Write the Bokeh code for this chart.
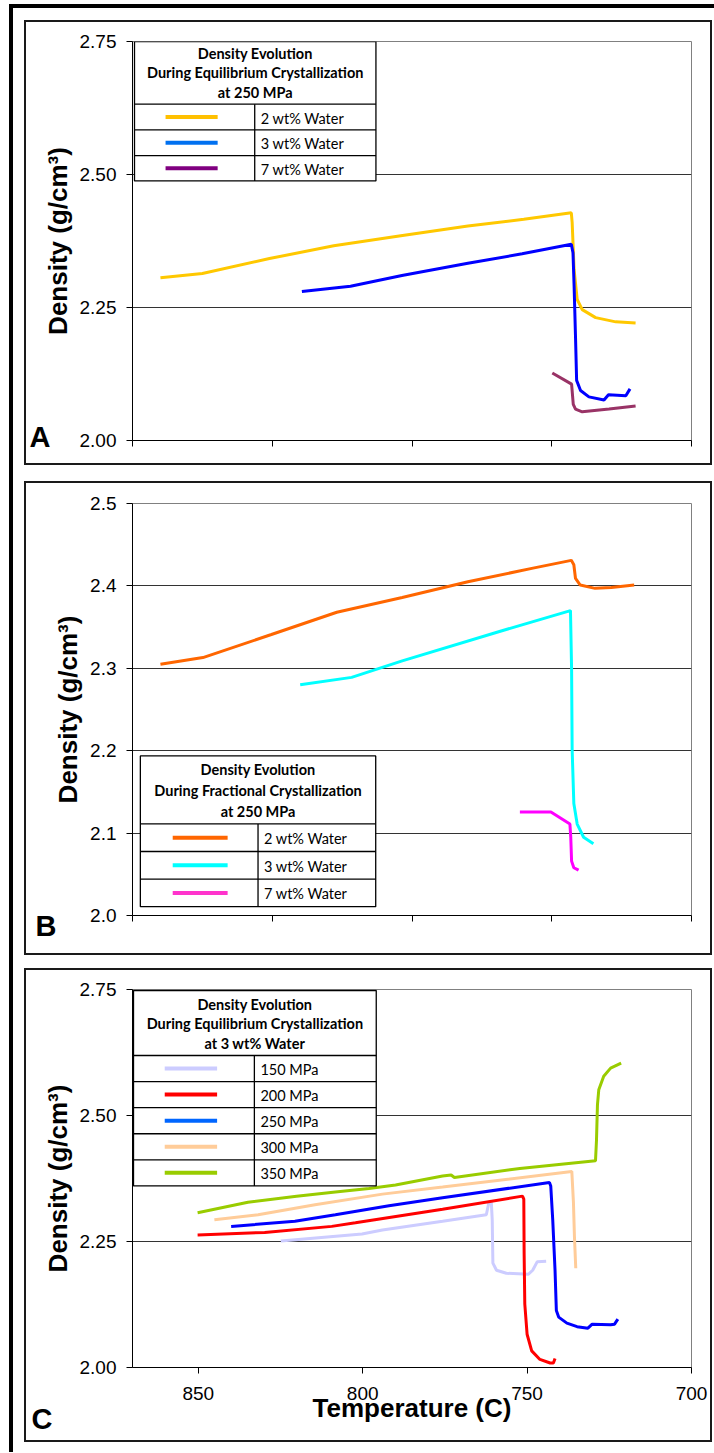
from bokeh.plotting import figure
from bokeh.layouts import column, row
from bokeh.models import (Range1d, FixedTicker, NumeralTickFormatter, Spacer, LinearAxis,
                          CustomJSTickFormatter)
from bokeh.embed import file_html
from bokeh.resources import INLINE
from bokeh.core.properties import value

# ---------------- data (temperature in C, density in g/cm3) ----------------
# Panel A: equilibrium crystallization at 250 MPa
a_t_2 = [890, 875, 851, 828, 804, 780, 760, 743, 742.7, 742.0, 740.9, 739.1, 734.3, 727.1, 720.0]
a_d_2 = [2.306, 2.314, 2.342, 2.366, 2.385, 2.403, 2.416, 2.428, 2.410, 2.321, 2.265, 2.246, 2.231, 2.223, 2.221]
a_t_3 = [839.4, 822, 803.6, 780, 760.6, 743.0, 742.4, 742.0, 741.5, 741.1, 739.7, 736.7, 731.3, 729.7, 723.5, 722.0]
a_d_3 = [2.280, 2.290, 2.310, 2.333, 2.351, 2.369, 2.353, 2.290, 2.195, 2.113, 2.094, 2.082, 2.076, 2.086, 2.084, 2.097]
a_t_7 = [749.8, 742.9, 742.3, 741.5, 739.1, 729.5, 720.0]
a_d_7 = [2.127, 2.106, 2.068, 2.059, 2.054, 2.059, 2.065]

# Panel B: fractional crystallization at 250 MPa
b_t_2 = [890, 874.8, 850.3, 826.9, 803.5, 780, 756.7, 743, 742.1, 741.5, 739.8, 734.5, 728.7, 720.5]
b_d_2 = [2.305, 2.313, 2.341, 2.368, 2.386, 2.405, 2.4216, 2.431, 2.4257, 2.409, 2.401, 2.397, 2.398, 2.401]
b_t_3 = [840, 821.6, 803.5, 768.4, 743.3, 742.9, 742.7, 742.1, 740.9, 738.6, 735.1]
b_d_3 = [2.280, 2.289, 2.309, 2.345, 2.370, 2.299, 2.201, 2.136, 2.111, 2.095, 2.087]
b_t_7 = [761.4, 750.3, 743.5, 743.2, 742.9, 742.1, 740.4]
b_d_7 = [2.1255, 2.1255, 2.111, 2.095, 2.066, 2.058, 2.055]

# Panel C: equilibrium crystallization at 3 wt% water
c_t_150 = [824.9, 800.2, 794.0, 775.7, 762.4, 761.6, 760.9, 760.6, 760.4, 759.3, 756.3, 749.6, 748.3, 746.9, 744.2]
c_d_150 = [2.251, 2.265, 2.273, 2.290, 2.303, 2.328, 2.330, 2.293, 2.207, 2.193, 2.187, 2.185, 2.193, 2.210, 2.211]
c_t_200 = [850.2, 829.8, 809.4, 802.2, 775.7, 751.4, 751.0, 750.9, 750.7, 750.0, 748.6, 746.1, 743.0, 742.0, 741.5]
c_d_200 = [2.263, 2.268, 2.280, 2.287, 2.314, 2.340, 2.334, 2.227, 2.126, 2.066, 2.033, 2.016, 2.009, 2.009, 2.018]
c_t_250 = [840, 820.6, 808.3, 792, 775.7, 743.2, 742.8, 742.2, 741.5, 741.1, 740.4, 737.9, 734.8, 731.5, 730.2, 724.6, 723.4, 722.4]
c_d_250 = [2.280, 2.290, 2.303, 2.321, 2.337, 2.367, 2.360, 2.293, 2.193, 2.113, 2.100, 2.088, 2.081, 2.078, 2.086, 2.085, 2.086, 2.096]
c_t_300 = [845.1, 831.8, 814.5, 794, 775.7, 736.4, 735.9, 735.6, 735.2]
c_d_300 = [2.293, 2.303, 2.323, 2.344, 2.358, 2.389, 2.327, 2.260, 2.197]
c_t_350 = [850.2, 834.9, 820.1, 808.3, 798.1, 790, 775.7, 773.1, 772.1, 752.2, 729.2, 728.9, 728.6, 728.2, 726.7, 724.6, 721.4]
c_d_350 = [2.307, 2.328, 2.340, 2.348, 2.355, 2.362, 2.380, 2.382, 2.377, 2.395, 2.410, 2.450, 2.521, 2.551, 2.578, 2.594, 2.604]

x_ticks_ab = [900, 850, 800, 750, 700]
x_ticks_c = [850, 800, 750, 700]
y_ticks_a = [2.00, 2.25, 2.50, 2.75]
y_ticks_b = [2.0, 2.1, 2.2, 2.3, 2.4, 2.5]
y_ticks_c = [2.00, 2.25, 2.50, 2.75]

legend_a_title = ["Density Evolution", "During Equilibrium Crystallization", "at 250 MPa"]
legend_b_title = ["Density Evolution", "During Fractional Crystallization", "at 250 MPa"]
legend_c_title = ["Density Evolution", "During Equilibrium Crystallization", "at 3 wt% Water"]
labels_ab = ["2 wt% Water", "3 wt% Water", "7 wt% Water"]
labels_c = ["150 MPa", "200 MPa", "250 MPa", "300 MPa", "350 MPa"]

TICK_FONT = "Liberation Sans"
LEG_FONT = "Lato"
BW = 2  # css border width of each panel


def make_panel(xr, yr, yticks, yfmt, xticks, frame, borders, xlabel=None):
    fw, fh = frame
    l, r, t, b = borders
    p = figure(width=fw + l + r + 2 * BW, height=fh + t + b + 2 * BW,
               x_range=Range1d(*xr), y_range=Range1d(*yr),
               output_backend="svg", toolbar_location=None,
               min_border_left=l, min_border_right=r,
               min_border_top=t, min_border_bottom=b,
               background_fill_color="white", border_fill_color="white")
    p.styles = {"border": f"{BW}px solid #1a1a1a"}
    p.outline_line_color = "#808080"
    p.outline_line_width = 1
    p.xgrid.grid_line_color = None
    p.ygrid.grid_line_color = "#333333"
    p.ygrid.grid_line_width = 1
    p.yaxis.ticker = FixedTicker(ticks=yticks)
    p.yaxis.formatter = NumeralTickFormatter(format=yfmt)
    p.xaxis.ticker = FixedTicker(ticks=xticks)
    for ax in (p.xaxis[0], p.yaxis[0]):
        ax.axis_line_color = "black"
        ax.axis_line_width = 1
        ax.major_tick_line_color = "black"
        ax.major_tick_in = 0
        ax.major_tick_out = 6
        ax.minor_tick_line_color = None
        ax.major_label_text_font = TICK_FONT
        ax.major_label_text_font_size = "19px"
        ax.major_label_text_color = "black"
    p.yaxis.major_label_standoff = 10
    p.yaxis.axis_label = "Density (g/cm³)"
    p.yaxis.axis_label_text_font = TICK_FONT
    p.yaxis.axis_label_text_font_style = "bold"
    p.yaxis.axis_label_text_font_size = "26px"
    p.yaxis.axis_label_text_color = "black"
    p.yaxis.axis_label_standoff = 4
    if xlabel is None:
        p.xaxis.major_label_text_color = None
        p.xaxis.major_label_text_font_size = "12px"
        p.xaxis.major_label_standoff = 0
    else:
        p.xaxis.major_label_standoff = 13
        p.xaxis.axis_label = xlabel
        p.xaxis.axis_label_text_font = TICK_FONT
        p.xaxis.axis_label_text_font_style = "bold"
        p.xaxis.axis_label_text_font_size = "26px"
        p.xaxis.axis_label_text_color = "black"
        p.xaxis.axis_label_standoff = -10

    def dx(px):
        return xr[0] + (xr[1] - xr[0]) * px / fw

    def dy(py):
        return yr[1] - (yr[1] - yr[0]) * py / fh

    return p, dx, dy


def add_letter_axis(p, letter, y_at, blank_lines, standoff):
    # panel letter: an extra, bare left axis carrying one label at the axis bottom;
    # leading blank lines push the letter below the tick position
    js_text = "\\n" * blank_lines + letter
    lax = LinearAxis(ticker=FixedTicker(ticks=[y_at]),
                     formatter=CustomJSTickFormatter(code=f"return '{js_text}'"),
                     axis_line_color=None, major_tick_line_color=None,
                     minor_tick_line_color=None, major_tick_out=0, major_tick_in=0,
                     major_label_standoff=standoff,
                     major_label_text_font=TICK_FONT,
                     major_label_text_font_style="bold",
                     major_label_text_font_size="29px",
                     major_label_text_color="black",
                     major_label_text_line_height=1.2,
                     major_label_orientation="horizontal")
    p.add_layout(lax, "left")


def draw_table(p, dx, dy, box, box_top, title_lines, title_ys, row_edges, divider,
               swatch, row_labels, colors):
    x0, x1 = box
    p.quad(left=[dx(x0)], right=[dx(x1)], top=[dy(box_top)], bottom=[dy(row_edges[-1])],
           fill_color="white", line_color="black", line_width=1.3)
    n = len(row_edges) - 1
    p.segment(x0=[dx(x0)] * n, x1=[dx(x1)] * n,
              y0=[dy(v) for v in row_edges[:-1]], y1=[dy(v) for v in row_edges[:-1]],
              line_color="black", line_width=1.3)
    p.segment(x0=[dx(divider)], x1=[dx(divider)], y0=[dy(row_edges[0])],
              y1=[dy(row_edges[-1])], line_color="black", line_width=1.3)
    p.text(x=[dx((x0 + x1) / 2)] * len(title_lines), y=[dy(v) for v in title_ys],
           text=title_lines, text_font=value(LEG_FONT), text_font_style="bold",
           text_font_size="14.5px", text_align="center", text_baseline="middle",
           text_color="black")
    mids = [(row_edges[i] + row_edges[i + 1]) / 2 for i in range(n)]
    p.segment(x0=[dx(swatch[0])] * n, x1=[dx(swatch[1])] * n,
              y0=[dy(m) for m in mids], y1=[dy(m) for m in mids],
              line_color=colors, line_width=4)
    p.text(x=[dx(divider + 6)] * n, y=[dy(m + 1) for m in mids],
           text=row_labels, text_font=value(LEG_FONT), text_font_size="14.5px",
           text_align="left", text_baseline="middle", text_color="black")


# ---------------- Panel A ----------------
pa, dxa, dya = make_panel((900, 700), (2.0, 2.75), y_ticks_a, "0.00", x_ticks_ab,
                          (558, 395), (105, 21, 19, 27))
pa.line(a_t_2, a_d_2, line_color="#FFC800", line_width=3)
pa.line(a_t_3, a_d_3, line_color="#0000FF", line_width=3)
pa.line(a_t_7, a_d_7, line_color="#993366", line_width=3)
draw_table(pa, dxa, dya, (2, 243), 0, legend_a_title, [12, 31, 50],
           [62, 87.5, 113, 138], 122, (33, 85), labels_ab,
           ["#FFC000", "#0070F0", "#800080"])
add_letter_axis(pa, "A", dya(392), 0, -11)

# ---------------- Panel B ----------------
pb, dxb, dyb = make_panel((900, 700), (2.0, 2.5), y_ticks_b, "0.0", x_ticks_ab,
                          (570, 408), (99, 15, 20, 42))
pb.line(b_t_2, b_d_2, line_color="#FF6600", line_width=3)
pb.line(b_t_3, b_d_3, line_color="#00FFFF", line_width=3)
pb.line(b_t_7, b_d_7, line_color="#FF00FF", line_width=3)
draw_table(pb, dxb, dyb, (8, 248), 250, legend_b_title, [263.3, 284, 304.7],
           [317.3, 344.6, 372, 399.3], 128, (41, 97), labels_ab,
           ["#FF6600", "#00FFFF", "#FF33CC"])
add_letter_axis(pb, "B", dyb(399), 1, -6)

# ---------------- Panel C ----------------
pc, dxc, dyc = make_panel((870, 700), (2.0, 2.75), y_ticks_c, "0.00", x_ticks_c,
                          (555, 374), (106, 23, 19, 77), xlabel="Temperature (C)")
pc.line(c_t_150, c_d_150, line_color="#CCCCFF", line_width=3)
pc.line(c_t_200, c_d_200, line_color="#FF0000", line_width=3)
pc.line(c_t_250, c_d_250, line_color="#0000FF", line_width=3)
pc.line(c_t_300, c_d_300, line_color="#FFCC99", line_width=3)
pc.line(c_t_350, c_d_350, line_color="#99CC00", line_width=3)
draw_table(pc, dxc, dyc, (1, 242), 1, legend_c_title, [15, 33.7, 53],
           [65.3, 91.1, 116.9, 142.7, 168.5, 194.3], 121, (32, 84), labels_c,
           ["#CCCCFF", "#FF0000", "#0066FF", "#FFCC99", "#99CC00"])
add_letter_axis(pc, "C", dyc(368), 3, -13)

stack = column(Spacer(height=12), pa, Spacer(height=16), pb, Spacer(height=13), pc,
               Spacer(height=10), spacing=0)
framed = row(Spacer(width=11), stack, Spacer(width=2), spacing=0,
             styles={"border-top": "4px solid black", "border-left": "4px solid black"})
layout = column(Spacer(height=4), row(Spacer(width=9), framed, spacing=0), spacing=0)

open("out.html", "w").write(file_html(layout, INLINE))
